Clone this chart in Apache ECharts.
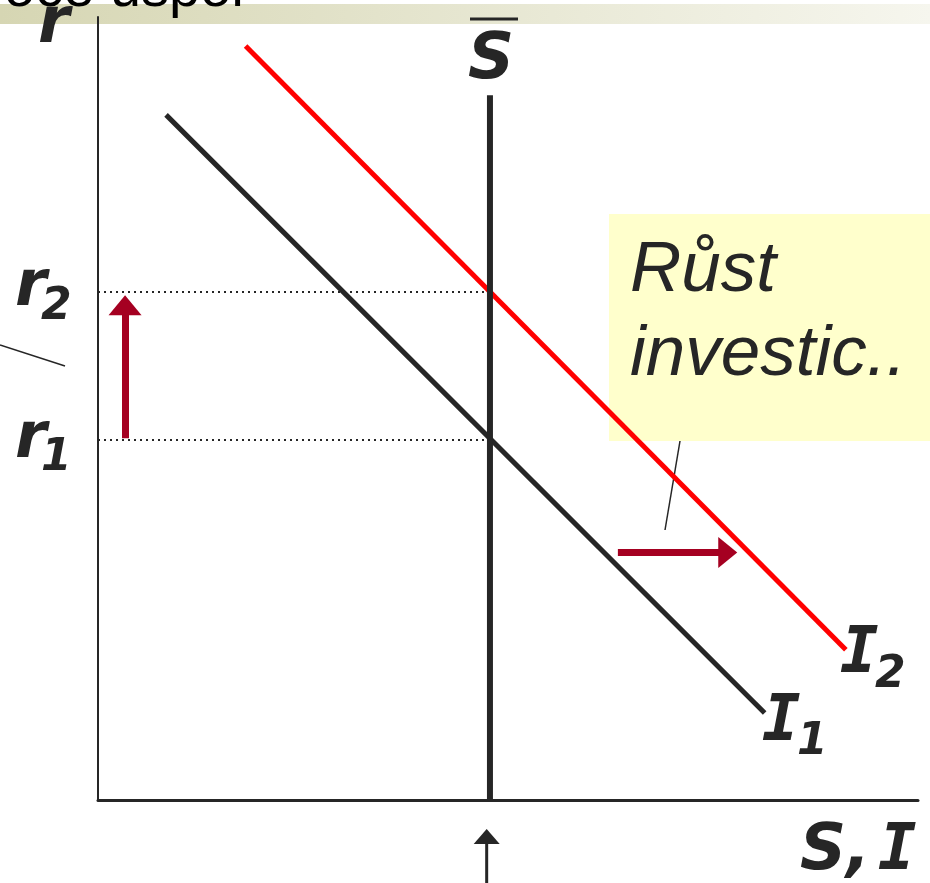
<!DOCTYPE html>
<html>
<head>
<meta charset="utf-8">
<script src="https://cdn.jsdelivr.net/npm/echarts@6/dist/echarts.min.js"></script>
<style>
  html, body { margin: 0; padding: 0; background: #fff; }
  #main { width: 930px; height: 883px; }
</style>
</head>
<body>
<div id="main"></div>
<script>
// curves in chart units (x: S,I  y: r)
var i1Line = [[8.3, 87.5], [81.3, 11.1]];
var i2Line = [[18.0, 96.3], [91.2, 19.2]];
var sBar = [[47.8, 0], [47.8, 90.0]];
var rLevelNames = ['r1', 'r2'];
var rLevelValues = [46.0, 64.9];
// arrows: [start, head centre]
var rateArrow = [[3.3, 46.2], [3.3, 63.2]];
var shiftArrow = [[63.4, 31.6], [76.8, 31.6]];
// below the S,I axis, pointing at S bar
var savingArrow = [[47.4, -10.6], [47.4, -3.7]];

var dark = '#262626';
var arrowRed = '#a50021';

var chart = echarts.init(document.getElementById('main'));

function arrow(points, color, width, head) {
  return [
    { coord: points[0], symbol: 'none', lineStyle: { color: color, width: width, type: 'solid' } },
    { coord: points[1], symbol: 'triangle', symbolSize: head, lineStyle: { color: color, width: width, type: 'solid' } }
  ];
}

// x, base = baseline position
function label(txt, x, base, size, family) {
  return {
    type: 'text', x: x, y: base - Math.round(size * 0.81), z: 10,
    style: {
      text: txt, fill: dark, font: 'italic bold ' + size + 'px ' + (family || '"DejaVu Sans"')
    }
  };
}

var dotted = rLevelValues.map(function (v, i) {
  return [
    { name: rLevelNames[i], coord: [0, v] },
    { coord: [sBar[0][0], v] }
  ];
});

var mono = '"DejaVu Sans Mono"';

var graphics = [
  // title band of the slide
  {
    type: 'rect', shape: { x: 0, y: 4, width: 930, height: 20 }, z: 0,
    style: {
      fill: new echarts.graphic.LinearGradient(0, 0, 1, 0, [
        { offset: 0, color: '#d6d6b3' },
        { offset: 1, color: '#f6f6ee' }
      ])
    }
  },
  {
    type: 'text', x: 4, y: 8 - 45, z: 1,
    style: { text: 'oce úspor', fill: '#000', font: '56px "Liberation Sans"' }
  },
  // callout
  {
    type: 'rect', shape: { x: 609, y: 214, width: 321, height: 227 }, z: 0,
    style: { fill: '#ffffcc' }
  },
  {
    type: 'text', x: 630, y: 293 - 57, z: 1,
    style: { text: 'Růst', fill: dark, font: 'italic 71px "Liberation Sans"' }
  },
  {
    type: 'text', x: 630, y: 377 - 57, z: 1,
    style: { text: 'investic..', fill: dark, font: 'italic 71px "Liberation Sans"' }
  },
  { type: 'line', shape: { x1: 680, y1: 441, x2: 665, y2: 530 }, z: 1, style: { stroke: dark, lineWidth: 1.5 } },
  { type: 'line', shape: { x1: 0, y1: 345, x2: 65, y2: 366 }, z: 1, style: { stroke: dark, lineWidth: 1.5 } },
  // axis and curve labels
  label('r', 38, 45, 64),
  label('r', 15, 308, 64),
  label('2', 41, 322, 44),
  label('r', 15, 460, 64),
  label('1', 41, 473, 44),
  label('S', 468, 81, 64),
  { type: 'line', shape: { x1: 470, y1: 19, x2: 518, y2: 19 }, z: 10, style: { stroke: dark, lineWidth: 3 } },
  label('I', 762, 743, 64, mono),
  label('1', 797, 757, 44),
  label('I', 840, 675, 64, mono),
  label('2', 875, 690, 44),
  label('S,', 800, 872, 64),
  label('I', 878, 872, 64, mono)
];

var option = {
  backgroundColor: '#ffffff',
  animation: false,
  grid: { left: 98, right: 12, top: 17, bottom: 83 },
  xAxis: {
    type: 'value', min: 0, max: 100,
    axisLine: { show: true, lineStyle: { color: dark, width: 3 } },
    axisTick: { show: false }, axisLabel: { show: false }, splitLine: { show: false }
  },
  yAxis: {
    type: 'value', min: 0, max: 100,
    axisLine: { show: true, lineStyle: { color: dark, width: 2 } },
    axisTick: { show: false }, axisLabel: { show: false }, splitLine: { show: false }
  },
  graphic: graphics,
  series: [
    {
      name: 'I1', type: 'line', data: i1Line, symbol: 'none', silent: true, z: 3,
      lineStyle: { color: dark, width: 5 }
    },
    {
      name: 'I2', type: 'line', data: i2Line, symbol: 'none', silent: true, z: 3,
      lineStyle: { color: '#ff0000', width: 5 }
    },
    {
      name: 'S', type: 'line', data: sBar, symbol: 'none', silent: true, z: 3,
      lineStyle: { color: dark, width: 6 },
      markLine: {
        silent: true, symbol: 'none', animation: false,
        label: { show: false },
        emphasis: { disabled: true },
        lineStyle: { color: dark, width: 2, type: [2, 4] },
        data: dotted.concat([
          arrow(rateArrow, arrowRed, 7, [33, 20]),
          arrow(shiftArrow, arrowRed, 7, [31, 19])
        ])
      }
    }
  ]
};

chart.setOption(option);

// the savings arrow sits under the axis, outside the grid; place it through the axis scales
var tail = chart.convertToPixel({ gridIndex: 0 }, savingArrow[0]);
var tip = chart.convertToPixel({ gridIndex: 0 }, savingArrow[1]);
graphics.push(
  { type: 'line', shape: { x1: tail[0], y1: tail[1], x2: tip[0], y2: tip[1] + 12 }, z: 5, style: { stroke: dark, lineWidth: 3 } },
  { type: 'polygon', shape: { points: [[tip[0], tip[1]], [tip[0] - 13, tip[1] + 15], [tip[0] + 13, tip[1] + 15]] }, z: 5, style: { fill: dark } }
);
chart.setOption({ graphic: graphics }, { replaceMerge: ['graphic'] });
</script>
</body>
</html>
